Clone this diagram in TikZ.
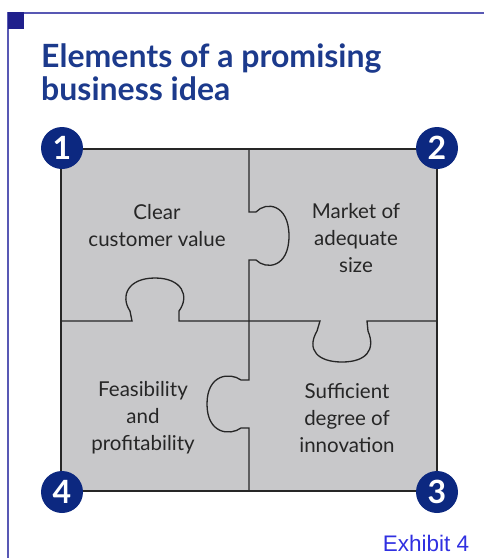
\documentclass[tikz,border=0pt]{standalone}
\usepackage{fontspec}
\setmainfont{Lato}
\newfontfamily\exhfont{Liberation Sans}
\definecolor{framecol}{RGB}{88,88,180}
\definecolor{cornercol}{RGB}{32,32,140}
\definecolor{titlecol}{RGB}{28,58,140}
\definecolor{badgecol}{RGB}{12,40,128}
\definecolor{piececol}{RGB}{200,200,202}
\definecolor{exhcol}{RGB}{48,48,225}
\begin{document}
\begin{tikzpicture}[
  x=1pt, y=-1pt,
  badge/.style={circle,fill=badgecol,minimum size=42pt,inner sep=0pt,
    text=white,font=\fontsize{32}{32}\selectfont\bfseries},
  piecetext/.style={align=center,font=\fontsize{20.5}{27}\selectfont,text=black!85},
  seam/.style={draw=black!85,line width=1.3pt},
  ]
  \useasboundingbox (0,0) rectangle (484,558);

  % frame
  \draw[framecol,line width=2pt] (484,13) -- (8,13) -- (8,558);
  \fill[cornercol] (8,12) rectangle (24,29);

  % title
  \node[anchor=north west,inner sep=0pt,align=left,text=titlecol,
    font=\fontsize{32}{33}\selectfont\bfseries] (title) at (41,44)
    {Elements of a promising\\business idea};

  % puzzle
  \fill[piececol] (61,149) rectangle (437,491);
  \draw[seam] (61,149) rectangle (437,491);
  \draw[seam] (249,149) -- (249,212) -- (256,212)
    .. controls (266,201) and (289,204) .. (289,236)
    .. controls (289,268) and (266,270) .. (256,260) -- (249,260) -- (249,321);
  \draw[seam] (61,321) -- (132,321) -- (130,311)
    .. controls (120,296) and (128,278) .. (155,278)
    .. controls (182,278) and (190,296) .. (179,311) -- (179,321) -- (249,321);
  \draw[seam] (249,321) -- (320,321) -- (317,331)
    .. controls (306,350) and (318,362) .. (342,362)
    .. controls (366,362) and (376,350) .. (368,331) -- (367,321) -- (437,321);
  \draw[seam] (249,321) -- (249,380) -- (241,380)
    .. controls (230,372) and (207,374) .. (207,404)
    .. controls (207,434) and (230,436) .. (241,428) -- (249,428) -- (249,491);

  \node[piecetext] (p1) at (157,226) {Clear\\customer value};
  \node[piecetext] (p2) at (356,238) {Market of\\adequate\\size};
  \node[piecetext] (p4) at (143,418) {Feasibility\\and\\profitability};
  \node[piecetext] (p3) at (347,418) {Sufficient\\degree of\\innovation};

  \node[badge] (n1) at (62,148) {1};
  \node[badge] (n2) at (437,148) {2};
  \node[badge] (n3) at (437,492) {3};
  \node[badge] (n4) at (62,492) {4};

  \node[text=exhcol,font=\exhfont\fontsize{22.5}{22.5}\selectfont,inner sep=0pt] (exh) at (426,543) {Exhibit 4};
\end{tikzpicture}
\end{document}
